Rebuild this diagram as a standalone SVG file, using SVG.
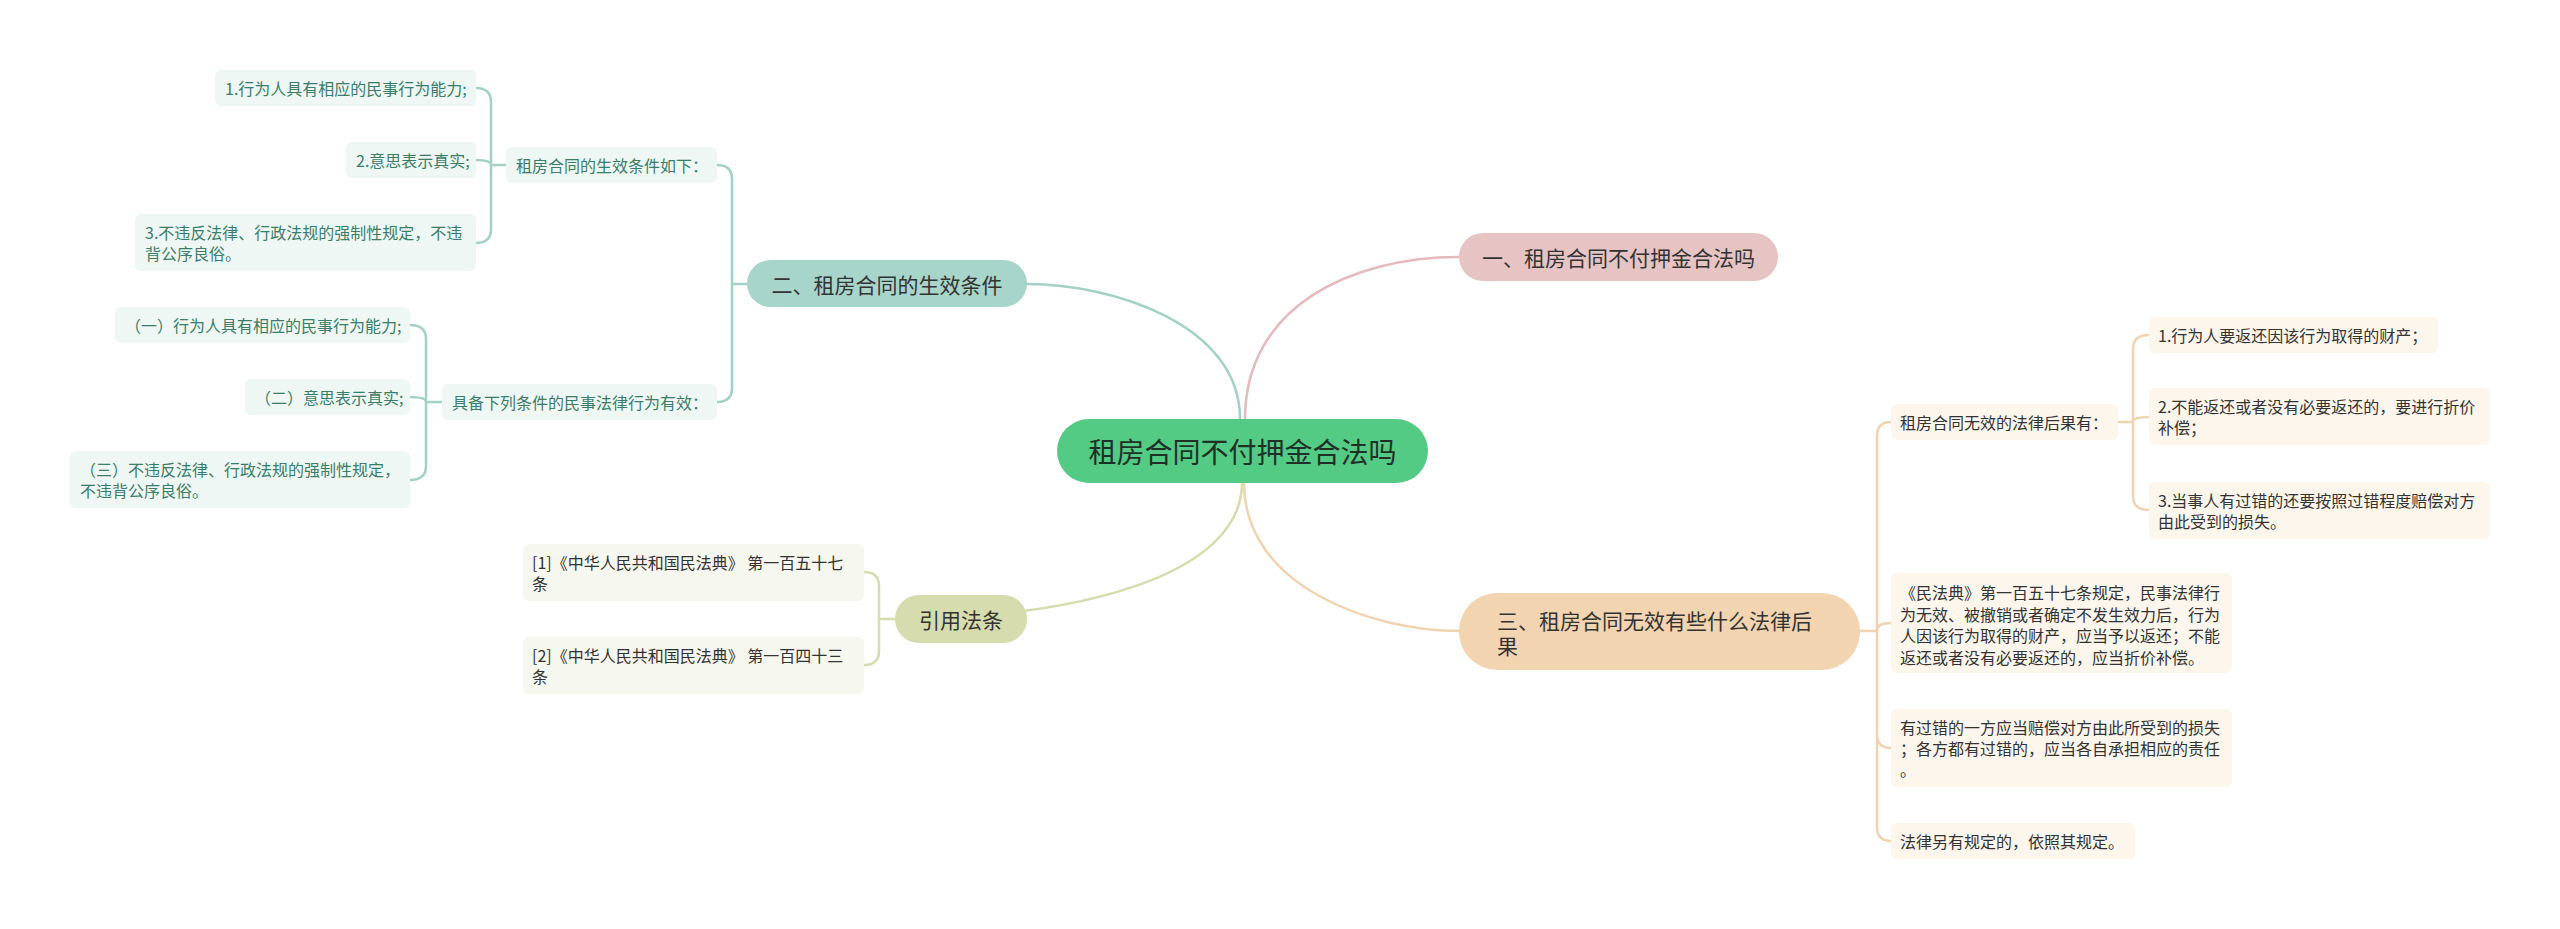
<svg xmlns="http://www.w3.org/2000/svg" width="2560" height="929" viewBox="0 0 2560 929">
<style>
text{font-family:"Noto Sans CJK SC","Noto Sans",sans-serif;dominant-baseline:central}
.sub{font-size:16px}
.br{font-size:21px;fill:#333}
.tealn{fill:#eef7f4}
.tealt{fill:#3a7d68}
.olin{fill:#f6f7ef}
.pean{fill:#fdf6ed}
.dark{fill:#333}
.c{fill:none;stroke-width:2.5;stroke-linecap:round}
.ct{stroke:#a3d1c5}
.cp{stroke:#e4babd}
.ce{stroke:#f0d3b0}
.co{stroke:#d6dcad}
</style>
<rect width="2560" height="929" fill="#fff"/>
<g id="connectors">
<path class="c ct" d="M1240,419 C1240,324 1112,284 1027,284"/>
<path class="c cp" d="M1245,419 C1245,306 1352,257 1459,257"/>
<path class="c co" d="M1242,483 C1242,578 1069,619 895,619"/>
<path class="c ce" d="M1244,483 C1244,587 1373,631 1459,631"/>
<path class="c ct" d="M747,284 H732 V179 Q732,165 717,165 M732,284 V388 Q732,402 717,402"/>
<path class="c ct" d="M506,165 H491 V102 Q491,88 476,88 M491,165 Q491,160 476,160 M491,165 V229 Q491,243 476,243"/>
<path class="c ct" d="M442,402 H426 V339 Q426,325 410,325 M426,402 Q426,397 410,397 M426,402 V466 Q426,480 410,480"/>
<path class="c co" d="M895,619 H879 V586 Q879,572 864,572 M879,619 V651 Q879,665 864,665"/>
<path class="c ce" d="M1860,631 H1877 V436 Q1877,422 1891,422 M1877,631 Q1877,623 1891,623 M1877,631 V734 Q1877,748 1891,748 M1877,631 V827 Q1877,841 1891,841"/>
<path class="c ce" d="M2118,422 H2133 V349 Q2133,335 2149,335 M2133,422 Q2133,417 2149,417 M2133,422 V496 Q2133,510 2149,510"/>
</g>
<g id="center">
<rect x="1057" y="419" width="371" height="64" rx="32" fill="#53cb84"/>
<text x="1242.5" y="451" text-anchor="middle" font-size="28" fill="#1f3026">租房合同不付押金合法吗</text>
</g>
<g id="b1">
<rect x="1459" y="233" width="319" height="48" rx="24" fill="#e7c4c4"/>
<text class="br" x="1618.5" y="257" text-anchor="middle">一、租房合同不付押金合法吗</text>
</g>
<g id="b2">
<rect x="747" y="260" width="280" height="47" rx="23.5" fill="#a8d5ca"/>
<text class="br" x="887" y="283.5" text-anchor="middle">二、租房合同的生效条件</text>
</g>
<g id="b3">
<rect x="1459" y="593" width="401" height="77" rx="38" fill="#f2d4b1"/>
<text class="br" x="1497" y="619.5">三、租房合同无效有些什么法律后</text>
<text class="br" x="1497" y="644.5">果</text>
</g>
<g id="b4">
<rect x="895" y="595" width="132" height="48" rx="24" fill="#d6dcae"/>
<text class="br" x="961" y="619" text-anchor="middle">引用法条</text>
</g>
<g id="t-a">
<rect class="tealn" x="506" y="147" width="211" height="36" rx="6"/>
<text class="sub tealt" x="516" y="165">租房合同的生效条件如下：</text>
</g>
<g id="t-a1">
<rect class="tealn" x="215" y="70" width="261" height="36" rx="6"/>
<text class="sub tealt" x="225" y="88">1.行为人具有相应的民事行为能力;</text>
</g>
<g id="t-a2">
<rect class="tealn" x="346" y="142" width="130" height="36" rx="6"/>
<text class="sub tealt" x="356" y="160">2.意思表示真实;</text>
</g>
<g id="t-a3">
<rect class="tealn" x="135" y="214" width="341" height="57" rx="6"/>
<text class="sub tealt" x="145" y="232">3.不违反法律、行政法规的强制性规定，不违</text>
<text class="sub tealt" x="145" y="253">背公序良俗。</text>
</g>
<g id="t-b">
<rect class="tealn" x="442" y="384" width="275" height="36" rx="6"/>
<text class="sub tealt" x="452" y="402">具备下列条件的民事法律行为有效：</text>
</g>
<g id="t-b1">
<rect class="tealn" x="115" y="307" width="295" height="36" rx="6"/>
<text class="sub tealt" x="125" y="325">（一）行为人具有相应的民事行为能力;</text>
</g>
<g id="t-b2">
<rect class="tealn" x="245" y="379" width="165" height="36" rx="6"/>
<text class="sub tealt" x="255" y="397">（二）意思表示真实;</text>
</g>
<g id="t-b3">
<rect class="tealn" x="70" y="451" width="340" height="57" rx="6"/>
<text class="sub tealt" x="80" y="469">（三）不违反法律、行政法规的强制性规定，</text>
<text class="sub tealt" x="80" y="490">不违背公序良俗。</text>
</g>
<g id="o1">
<rect class="olin" x="523" y="544" width="341" height="57" rx="6"/>
<text class="sub dark" x="532" y="562">[1]《中华人民共和国民法典》 第一百五十七</text>
<text class="sub dark" x="532" y="583">条</text>
</g>
<g id="o2">
<rect class="olin" x="523" y="637" width="341" height="57" rx="6"/>
<text class="sub dark" x="532" y="655">[2]《中华人民共和国民法典》 第一百四十三</text>
<text class="sub dark" x="532" y="676">条</text>
</g>
<g id="p">
<rect class="pean" x="1891" y="404" width="227" height="36" rx="6"/>
<text class="sub dark" x="1900" y="422">租房合同无效的法律后果有：</text>
</g>
<g id="p1">
<rect class="pean" x="2149" y="317" width="289" height="36" rx="6"/>
<text class="sub dark" x="2158" y="335">1.行为人要返还因该行为取得的财产；</text>
</g>
<g id="p2">
<rect class="pean" x="2149" y="388" width="341" height="57" rx="6"/>
<text class="sub dark" x="2158" y="406">2.不能返还或者没有必要返还的，要进行折价</text>
<text class="sub dark" x="2158" y="427">补偿；</text>
</g>
<g id="p3">
<rect class="pean" x="2149" y="482" width="341" height="57" rx="6"/>
<text class="sub dark" x="2158" y="500">3.当事人有过错的还要按照过错程度赔偿对方</text>
<text class="sub dark" x="2158" y="521">由此受到的损失。</text>
</g>
<g id="q1">
<rect class="pean" x="1891" y="573" width="341" height="100" rx="6"/>
<text class="sub dark" x="1900" y="592">《民法典》第一百五十七条规定，民事法律行</text>
<text class="sub dark" x="1900" y="613.5">为无效、被撤销或者确定不发生效力后，行为</text>
<text class="sub dark" x="1900" y="635">人因该行为取得的财产，应当予以返还；不能</text>
<text class="sub dark" x="1900" y="656.5">返还或者没有必要返还的，应当折价补偿。</text>
</g>
<g id="q2">
<rect class="pean" x="1891" y="709" width="341" height="78" rx="6"/>
<text class="sub dark" x="1900" y="727">有过错的一方应当赔偿对方由此所受到的损失</text>
<text class="sub dark" x="1900" y="748">；各方都有过错的，应当各自承担相应的责任</text>
<text class="sub dark" x="1900" y="769">。</text>
</g>
<g id="q3">
<rect class="pean" x="1891" y="823" width="244" height="36" rx="6"/>
<text class="sub dark" x="1900" y="841">法律另有规定的，依照其规定。</text>
</g>
</svg>
